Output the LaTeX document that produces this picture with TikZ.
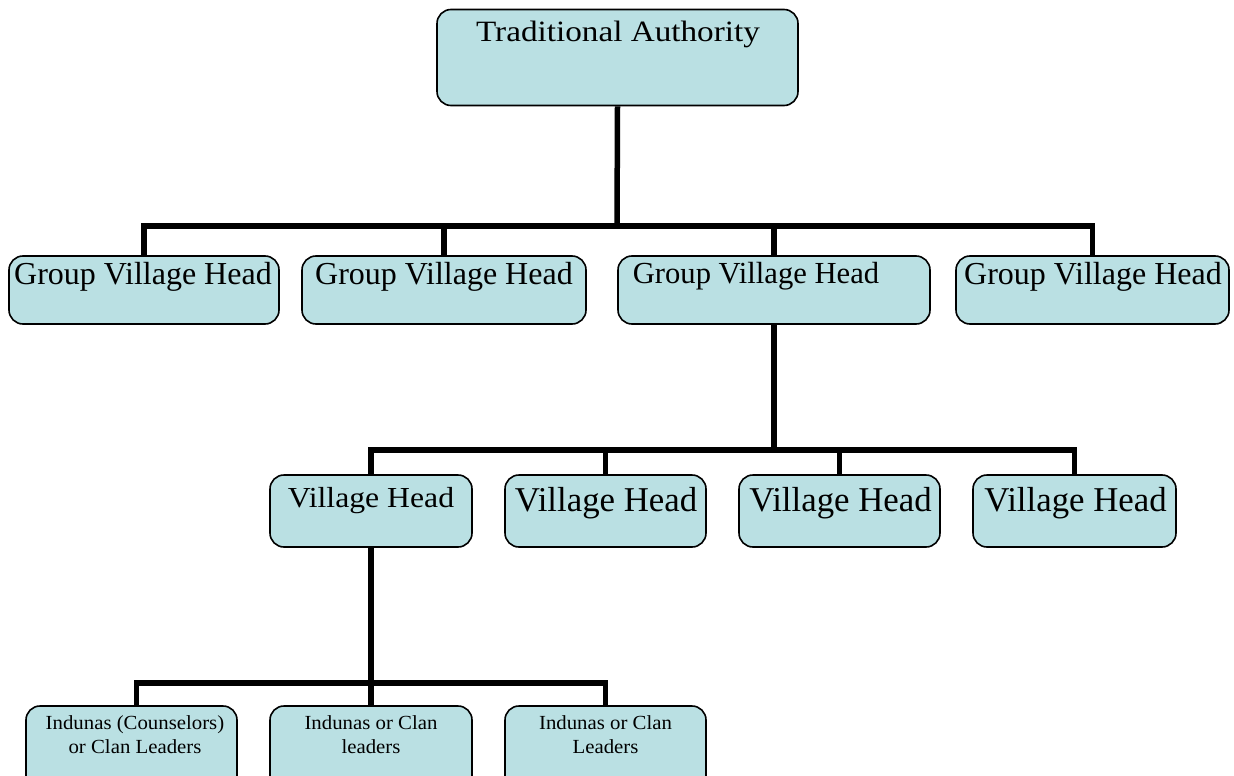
\documentclass[tikz,border=0pt]{standalone}
\usepackage{fontspec}
\setmainfont{Liberation Serif}
\newfontfamily\wideA[FakeStretch=1.126]{Liberation Serif}
\newfontfamily\wideB[FakeStretch=1.094]{Liberation Serif}
\newfontfamily\wideC[FakeStretch=1.04]{Liberation Serif}
\definecolor{boxfill}{RGB}{186,224,227}
\pgfdeclarelayer{links}
\pgfsetlayers{links,main}
\begin{document}
\begin{tikzpicture}[x=1pt,y=-1pt,
  box/.style={draw=black, line width=1.6pt, fill=boxfill, rounded corners=14pt, inner sep=0pt},
  conn/.style={line width=5.5pt, line join=miter, draw=black},
  lbl/.style={inner sep=0pt, align=center, text=black},
  mid/.style={font=\fontsize{32}{36}\selectfont},
  vh/.style={font=\fontsize{34.8}{40}\selectfont},
  small/.style={font=\wideC\fontsize{20}{24}\selectfont}]
\useasboundingbox (0,0) rectangle (1234,776);
\clip (0,0) rectangle (1234,776);

% top level
\node[box, minimum width=361pt, minimum height=96pt] (ta) at (617.5,57.5) {};
\node[lbl, font=\wideA\fontsize{29.5}{34}\selectfont] (tat) at (618,34.8) {Traditional Authority};

% group village heads
\node[box, minimum width=270pt, minimum height=68pt] (g1) at (144,290) {};
\node[box, minimum width=284pt, minimum height=68pt] (g2) at (444,290) {};
\node[box, minimum width=312pt, minimum height=68pt] (g3) at (774,290) {};
\node[box, minimum width=273pt, minimum height=68pt] (g4) at (1092.5,290) {};
\node[lbl, mid] (g1t) at (143,276.5) {Group Village Head};
\node[lbl, mid] (g2t) at (444,276.5) {Group Village Head};
\node[lbl, font=\fontsize{30.6}{34}\selectfont] (g3t) at (756,276.3) {Group Village Head};
\node[lbl, mid] (g4t) at (1093,276.5) {Group Village Head};

% village heads
\node[box, minimum width=202pt, minimum height=72pt] (v1) at (371,511) {};
\node[box, minimum width=201pt, minimum height=72pt] (v2) at (605.5,511) {};
\node[box, minimum width=201pt, minimum height=72pt] (v3) at (839.5,511) {};
\node[box, minimum width=203pt, minimum height=72pt] (v4) at (1074.5,511) {};
\node[lbl, font=\wideB\fontsize{29}{34}\selectfont] (v1t) at (371,500.2) {Village Head};
\node[lbl, vh] (v2t) at (606,503) {Village Head};
\node[lbl, vh] (v3t) at (840.5,503) {Village Head};
\node[lbl, vh] (v4t) at (1075.5,503) {Village Head};

% indunas
\node[box, minimum width=211pt, minimum height=90pt] (i1) at (131.5,751) {};
\node[box, minimum width=202pt, minimum height=90pt] (i2) at (371,751) {};
\node[box, minimum width=201pt, minimum height=90pt] (i3) at (605.5,751) {};
\node[lbl, small] (i1t) at (135,734.2) {Indunas (Counselors)\\or Clan Leaders};
\node[lbl, small] (i2t) at (371,734.2) {Indunas or Clan\\leaders};
\node[lbl, small] (i3t) at (605.5,734.2) {Indunas or Clan\\Leaders};

% branch points
\coordinate (bus1) at (617,226);
\coordinate (bus2) at (774,450);
\coordinate (bus3) at (371,683);

\begin{pgfonlayer}{links}
\draw[conn] (ta.south) -- (bus1);
\draw[conn] (g1.north) |- (bus1);
\draw[conn] (g2.north) |- (bus1);
\draw[conn] (g3.north) |- (bus1);
\draw[conn] (g4.north) |- (bus1);

\draw[conn] (g3.south) -- (bus2);
\draw[conn] (v1.north) |- (bus2);
\draw[conn] (v2.north) |- (bus2);
\draw[conn] (v3.north) |- (bus2);
\draw[conn] (v4.north) |- (bus2);

\draw[conn] (v1.south) -- (bus3);
\draw[conn] ([xshift=5pt]i1.north) |- (bus3);
\draw[conn] (i2.north) |- (bus3);
\draw[conn] (i3.north) |- (bus3);
\end{pgfonlayer}
\end{tikzpicture}
\end{document}
